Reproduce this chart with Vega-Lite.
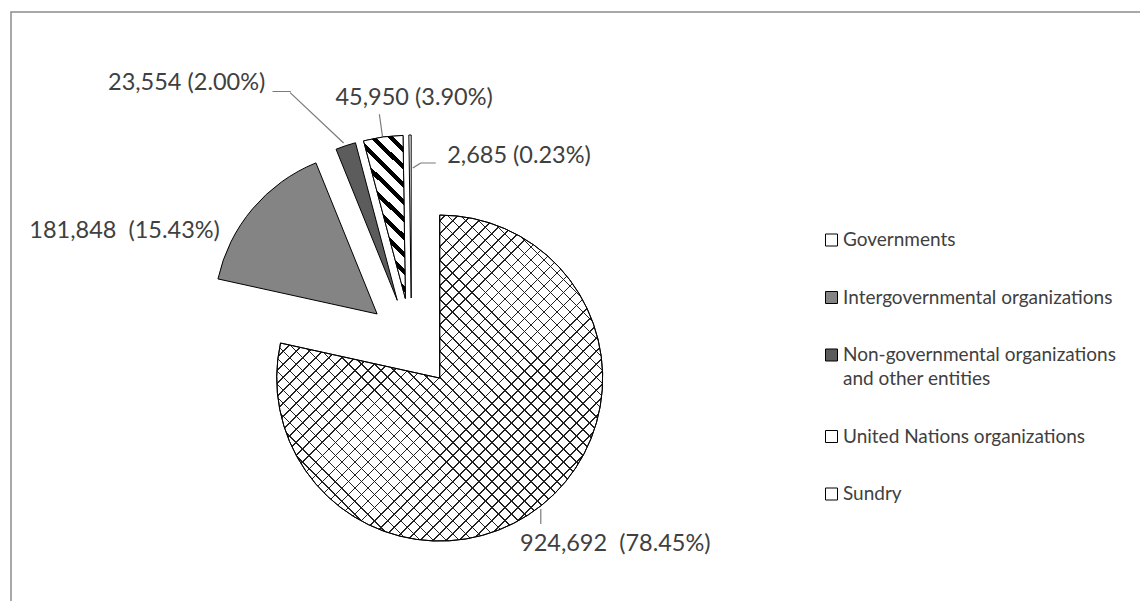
{
  "$schema": "https://vega.github.io/schema/vega-lite/v6.json",
  "padding": {"left": 10, "top": 11, "right": 0, "bottom": -72},
  "background": "white",
  "config": {"font": "Lato", "text": {"font": "Lato"}, "style": {"guide-label": {"lineHeight": 24}}},
  "data": {"values": [
    {"category": "Governments", "value": 924692, "label": "924,692\u00a0 (78.45%)"},
    {"category": "Intergovernmental organizations", "value": 181848, "label": "181,848\u00a0 (15.43%)"},
    {"category": "Non-governmental organizations and other entities", "value": 23554, "label": "23,554 (2.00%)"},
    {"category": "United Nations organizations", "value": 45950, "label": "45,950 (3.90%)"},
    {"category": "Sundry", "value": 2685, "label": "2,685 (0.23%)"}
  ]},
  "transform": [
    {"joinaggregate": [{"op": "sum", "field": "value", "as": "total"}]},
    {"stack": "value", "groupby": [], "as": ["v0", "v1"]}
  ],
  "spacing": 0,
  "bounds": "flush",
  "hconcat": [
    {
      "width": 801,
      "height": 662,
      "view": {"stroke": "#8c8c8c", "strokeWidth": 1.5, "strokeDash": [801, 1463, 700]},
      "encoding": {
        "theta": {"field": "value", "type": "quantitative", "stack": true},
        "order": {"field": "v0", "type": "quantitative", "sort": "ascending"}
      },
      "layer": [
        {
          "mark": {"type": "arc", "outerRadius": 163, "stroke": "black", "strokeWidth": 1},
          "encoding": {
            "color": {
              "field": "category", "type": "nominal",
              "scale": {
                "domain": ["Governments", "Intergovernmental organizations", "Non-governmental organizations and other entities", "United Nations organizations", "Sundry"],
                "range": ["#ffffff", "#848484", "#5c5c5c", "#ffffff", "#ffffff"]
              },
              "legend": {
                "orient": "none", "legendX": 811, "legendY": 218.5,
                "title": null, "padding": 0,
                "symbolType": "square", "symbolSize": 144,
                "symbolStrokeColor": "black", "symbolStrokeWidth": 1,
                "labelFont": "Lato", "labelFontSize": 19, "labelColor": "#404040",
                "labelLimit": 0, "labelOffset": 2, "rowPadding": 37.5,
                "labelExpr": "datum.label == 'Non-governmental organizations and other entities' ? ['Non-governmental organizations', 'and other entities'] : datum.label"
              }
            },
            "xOffset": {"value": {"expr": "45*sin(PI*(datum.value_start+datum.value_end)/datum.total)"}},
            "yOffset": {"value": {"expr": "-45*cos(PI*(datum.value_start+datum.value_end)/datum.total)"}}
          }
        },
        {
          "mark": {
            "type": "arc", "outerRadius": 163, "strokeWidth": 0,
            "fill": {
              "gradient": "linear", "x1": 0, "y1": 0, "x2": 1, "y2": 1,
              "stops": [
                {"offset":0,"color":"transparent"},{"offset":0.0175,"color":"transparent"},{"offset":0.0175,"color":"#222"},{"offset":0.02,"color":"#222"},
                {"offset":0.02,"color":"transparent"},{"offset":0.0375,"color":"transparent"},{"offset":0.0375,"color":"#222"},{"offset":0.04,"color":"#222"},
                {"offset":0.04,"color":"transparent"},{"offset":0.0575,"color":"transparent"},{"offset":0.0575,"color":"#222"},{"offset":0.06,"color":"#222"},
                {"offset":0.06,"color":"transparent"},{"offset":0.0775,"color":"transparent"},{"offset":0.0775,"color":"#222"},{"offset":0.08,"color":"#222"},
                {"offset":0.08,"color":"transparent"},{"offset":0.0975,"color":"transparent"},{"offset":0.0975,"color":"#222"},{"offset":0.1,"color":"#222"},
                {"offset":0.1,"color":"transparent"},{"offset":0.1175,"color":"transparent"},{"offset":0.1175,"color":"#222"},{"offset":0.12,"color":"#222"},
                {"offset":0.12,"color":"transparent"},{"offset":0.1375,"color":"transparent"},{"offset":0.1375,"color":"#222"},{"offset":0.14,"color":"#222"},
                {"offset":0.14,"color":"transparent"},{"offset":0.1575,"color":"transparent"},{"offset":0.1575,"color":"#222"},{"offset":0.16,"color":"#222"},
                {"offset":0.16,"color":"transparent"},{"offset":0.1775,"color":"transparent"},{"offset":0.1775,"color":"#222"},{"offset":0.18,"color":"#222"},
                {"offset":0.18,"color":"transparent"},{"offset":0.1975,"color":"transparent"},{"offset":0.1975,"color":"#222"},{"offset":0.2,"color":"#222"},
                {"offset":0.2,"color":"transparent"},{"offset":0.2175,"color":"transparent"},{"offset":0.2175,"color":"#222"},{"offset":0.22,"color":"#222"},
                {"offset":0.22,"color":"transparent"},{"offset":0.2375,"color":"transparent"},{"offset":0.2375,"color":"#222"},{"offset":0.24,"color":"#222"},
                {"offset":0.24,"color":"transparent"},{"offset":0.2575,"color":"transparent"},{"offset":0.2575,"color":"#222"},{"offset":0.26,"color":"#222"},
                {"offset":0.26,"color":"transparent"},{"offset":0.2775,"color":"transparent"},{"offset":0.2775,"color":"#222"},{"offset":0.28,"color":"#222"},
                {"offset":0.28,"color":"transparent"},{"offset":0.2975,"color":"transparent"},{"offset":0.2975,"color":"#222"},{"offset":0.3,"color":"#222"},
                {"offset":0.3,"color":"transparent"},{"offset":0.3175,"color":"transparent"},{"offset":0.3175,"color":"#222"},{"offset":0.32,"color":"#222"},
                {"offset":0.32,"color":"transparent"},{"offset":0.3375,"color":"transparent"},{"offset":0.3375,"color":"#222"},{"offset":0.34,"color":"#222"},
                {"offset":0.34,"color":"transparent"},{"offset":0.3575,"color":"transparent"},{"offset":0.3575,"color":"#222"},{"offset":0.36,"color":"#222"},
                {"offset":0.36,"color":"transparent"},{"offset":0.3775,"color":"transparent"},{"offset":0.3775,"color":"#222"},{"offset":0.38,"color":"#222"},
                {"offset":0.38,"color":"transparent"},{"offset":0.3975,"color":"transparent"},{"offset":0.3975,"color":"#222"},{"offset":0.4,"color":"#222"},
                {"offset":0.4,"color":"transparent"},{"offset":0.4175,"color":"transparent"},{"offset":0.4175,"color":"#222"},{"offset":0.42,"color":"#222"},
                {"offset":0.42,"color":"transparent"},{"offset":0.4375,"color":"transparent"},{"offset":0.4375,"color":"#222"},{"offset":0.44,"color":"#222"},
                {"offset":0.44,"color":"transparent"},{"offset":0.4575,"color":"transparent"},{"offset":0.4575,"color":"#222"},{"offset":0.46,"color":"#222"},
                {"offset":0.46,"color":"transparent"},{"offset":0.4775,"color":"transparent"},{"offset":0.4775,"color":"#222"},{"offset":0.48,"color":"#222"},
                {"offset":0.48,"color":"transparent"},{"offset":0.4975,"color":"transparent"},{"offset":0.4975,"color":"#222"},{"offset":0.5,"color":"#222"},
                {"offset":0.5,"color":"transparent"},{"offset":0.5175,"color":"transparent"},{"offset":0.5175,"color":"#222"},{"offset":0.52,"color":"#222"},
                {"offset":0.52,"color":"transparent"},{"offset":0.5375,"color":"transparent"},{"offset":0.5375,"color":"#222"},{"offset":0.54,"color":"#222"},
                {"offset":0.54,"color":"transparent"},{"offset":0.5575,"color":"transparent"},{"offset":0.5575,"color":"#222"},{"offset":0.56,"color":"#222"},
                {"offset":0.56,"color":"transparent"},{"offset":0.5775,"color":"transparent"},{"offset":0.5775,"color":"#222"},{"offset":0.58,"color":"#222"},
                {"offset":0.58,"color":"transparent"},{"offset":0.5975,"color":"transparent"},{"offset":0.5975,"color":"#222"},{"offset":0.6,"color":"#222"},
                {"offset":0.6,"color":"transparent"},{"offset":0.6175,"color":"transparent"},{"offset":0.6175,"color":"#222"},{"offset":0.62,"color":"#222"},
                {"offset":0.62,"color":"transparent"},{"offset":0.6375,"color":"transparent"},{"offset":0.6375,"color":"#222"},{"offset":0.64,"color":"#222"},
                {"offset":0.64,"color":"transparent"},{"offset":0.6575,"color":"transparent"},{"offset":0.6575,"color":"#222"},{"offset":0.66,"color":"#222"},
                {"offset":0.66,"color":"transparent"},{"offset":0.6775,"color":"transparent"},{"offset":0.6775,"color":"#222"},{"offset":0.68,"color":"#222"},
                {"offset":0.68,"color":"transparent"},{"offset":0.6975,"color":"transparent"},{"offset":0.6975,"color":"#222"},{"offset":0.7,"color":"#222"},
                {"offset":0.7,"color":"transparent"},{"offset":0.7175,"color":"transparent"},{"offset":0.7175,"color":"#222"},{"offset":0.72,"color":"#222"},
                {"offset":0.72,"color":"transparent"},{"offset":0.7375,"color":"transparent"},{"offset":0.7375,"color":"#222"},{"offset":0.74,"color":"#222"},
                {"offset":0.74,"color":"transparent"},{"offset":0.7575,"color":"transparent"},{"offset":0.7575,"color":"#222"},{"offset":0.76,"color":"#222"},
                {"offset":0.76,"color":"transparent"},{"offset":0.7775,"color":"transparent"},{"offset":0.7775,"color":"#222"},{"offset":0.78,"color":"#222"},
                {"offset":0.78,"color":"transparent"},{"offset":0.7975,"color":"transparent"},{"offset":0.7975,"color":"#222"},{"offset":0.8,"color":"#222"},
                {"offset":0.8,"color":"transparent"},{"offset":0.8175,"color":"transparent"},{"offset":0.8175,"color":"#222"},{"offset":0.82,"color":"#222"},
                {"offset":0.82,"color":"transparent"},{"offset":0.8375,"color":"transparent"},{"offset":0.8375,"color":"#222"},{"offset":0.84,"color":"#222"},
                {"offset":0.84,"color":"transparent"},{"offset":0.8575,"color":"transparent"},{"offset":0.8575,"color":"#222"},{"offset":0.86,"color":"#222"},
                {"offset":0.86,"color":"transparent"},{"offset":0.8775,"color":"transparent"},{"offset":0.8775,"color":"#222"},{"offset":0.88,"color":"#222"},
                {"offset":0.88,"color":"transparent"},{"offset":0.8975,"color":"transparent"},{"offset":0.8975,"color":"#222"},{"offset":0.9,"color":"#222"},
                {"offset":0.9,"color":"transparent"},{"offset":0.9175,"color":"transparent"},{"offset":0.9175,"color":"#222"},{"offset":0.92,"color":"#222"},
                {"offset":0.92,"color":"transparent"},{"offset":0.9375,"color":"transparent"},{"offset":0.9375,"color":"#222"},{"offset":0.94,"color":"#222"},
                {"offset":0.94,"color":"transparent"},{"offset":0.9575,"color":"transparent"},{"offset":0.9575,"color":"#222"},{"offset":0.96,"color":"#222"},
                {"offset":0.96,"color":"transparent"},{"offset":0.9775,"color":"transparent"},{"offset":0.9775,"color":"#222"},{"offset":0.98,"color":"#222"},
                {"offset":0.98,"color":"transparent"},{"offset":0.9975,"color":"transparent"},{"offset":0.9975,"color":"#222"},{"offset":1,"color":"#222"}
              ]
            }
          },
          "encoding": {
            "opacity": {"condition": {"test": "datum.category == 'Governments'", "value": 1}, "value": 0},
            "xOffset": {"value": {"expr": "45*sin(PI*(datum.value_start+datum.value_end)/datum.total)"}},
            "yOffset": {"value": {"expr": "-45*cos(PI*(datum.value_start+datum.value_end)/datum.total)"}}
          }
        },
        {
          "mark": {
            "type": "arc", "outerRadius": 163, "strokeWidth": 0,
            "fill": {
              "gradient": "linear", "x1": 1, "y1": 0, "x2": 0, "y2": 1,
              "stops": [
                {"offset":0,"color":"transparent"},{"offset":0.0175,"color":"transparent"},{"offset":0.0175,"color":"#222"},{"offset":0.02,"color":"#222"},
                {"offset":0.02,"color":"transparent"},{"offset":0.0375,"color":"transparent"},{"offset":0.0375,"color":"#222"},{"offset":0.04,"color":"#222"},
                {"offset":0.04,"color":"transparent"},{"offset":0.0575,"color":"transparent"},{"offset":0.0575,"color":"#222"},{"offset":0.06,"color":"#222"},
                {"offset":0.06,"color":"transparent"},{"offset":0.0775,"color":"transparent"},{"offset":0.0775,"color":"#222"},{"offset":0.08,"color":"#222"},
                {"offset":0.08,"color":"transparent"},{"offset":0.0975,"color":"transparent"},{"offset":0.0975,"color":"#222"},{"offset":0.1,"color":"#222"},
                {"offset":0.1,"color":"transparent"},{"offset":0.1175,"color":"transparent"},{"offset":0.1175,"color":"#222"},{"offset":0.12,"color":"#222"},
                {"offset":0.12,"color":"transparent"},{"offset":0.1375,"color":"transparent"},{"offset":0.1375,"color":"#222"},{"offset":0.14,"color":"#222"},
                {"offset":0.14,"color":"transparent"},{"offset":0.1575,"color":"transparent"},{"offset":0.1575,"color":"#222"},{"offset":0.16,"color":"#222"},
                {"offset":0.16,"color":"transparent"},{"offset":0.1775,"color":"transparent"},{"offset":0.1775,"color":"#222"},{"offset":0.18,"color":"#222"},
                {"offset":0.18,"color":"transparent"},{"offset":0.1975,"color":"transparent"},{"offset":0.1975,"color":"#222"},{"offset":0.2,"color":"#222"},
                {"offset":0.2,"color":"transparent"},{"offset":0.2175,"color":"transparent"},{"offset":0.2175,"color":"#222"},{"offset":0.22,"color":"#222"},
                {"offset":0.22,"color":"transparent"},{"offset":0.2375,"color":"transparent"},{"offset":0.2375,"color":"#222"},{"offset":0.24,"color":"#222"},
                {"offset":0.24,"color":"transparent"},{"offset":0.2575,"color":"transparent"},{"offset":0.2575,"color":"#222"},{"offset":0.26,"color":"#222"},
                {"offset":0.26,"color":"transparent"},{"offset":0.2775,"color":"transparent"},{"offset":0.2775,"color":"#222"},{"offset":0.28,"color":"#222"},
                {"offset":0.28,"color":"transparent"},{"offset":0.2975,"color":"transparent"},{"offset":0.2975,"color":"#222"},{"offset":0.3,"color":"#222"},
                {"offset":0.3,"color":"transparent"},{"offset":0.3175,"color":"transparent"},{"offset":0.3175,"color":"#222"},{"offset":0.32,"color":"#222"},
                {"offset":0.32,"color":"transparent"},{"offset":0.3375,"color":"transparent"},{"offset":0.3375,"color":"#222"},{"offset":0.34,"color":"#222"},
                {"offset":0.34,"color":"transparent"},{"offset":0.3575,"color":"transparent"},{"offset":0.3575,"color":"#222"},{"offset":0.36,"color":"#222"},
                {"offset":0.36,"color":"transparent"},{"offset":0.3775,"color":"transparent"},{"offset":0.3775,"color":"#222"},{"offset":0.38,"color":"#222"},
                {"offset":0.38,"color":"transparent"},{"offset":0.3975,"color":"transparent"},{"offset":0.3975,"color":"#222"},{"offset":0.4,"color":"#222"},
                {"offset":0.4,"color":"transparent"},{"offset":0.4175,"color":"transparent"},{"offset":0.4175,"color":"#222"},{"offset":0.42,"color":"#222"},
                {"offset":0.42,"color":"transparent"},{"offset":0.4375,"color":"transparent"},{"offset":0.4375,"color":"#222"},{"offset":0.44,"color":"#222"},
                {"offset":0.44,"color":"transparent"},{"offset":0.4575,"color":"transparent"},{"offset":0.4575,"color":"#222"},{"offset":0.46,"color":"#222"},
                {"offset":0.46,"color":"transparent"},{"offset":0.4775,"color":"transparent"},{"offset":0.4775,"color":"#222"},{"offset":0.48,"color":"#222"},
                {"offset":0.48,"color":"transparent"},{"offset":0.4975,"color":"transparent"},{"offset":0.4975,"color":"#222"},{"offset":0.5,"color":"#222"},
                {"offset":0.5,"color":"transparent"},{"offset":0.5175,"color":"transparent"},{"offset":0.5175,"color":"#222"},{"offset":0.52,"color":"#222"},
                {"offset":0.52,"color":"transparent"},{"offset":0.5375,"color":"transparent"},{"offset":0.5375,"color":"#222"},{"offset":0.54,"color":"#222"},
                {"offset":0.54,"color":"transparent"},{"offset":0.5575,"color":"transparent"},{"offset":0.5575,"color":"#222"},{"offset":0.56,"color":"#222"},
                {"offset":0.56,"color":"transparent"},{"offset":0.5775,"color":"transparent"},{"offset":0.5775,"color":"#222"},{"offset":0.58,"color":"#222"},
                {"offset":0.58,"color":"transparent"},{"offset":0.5975,"color":"transparent"},{"offset":0.5975,"color":"#222"},{"offset":0.6,"color":"#222"},
                {"offset":0.6,"color":"transparent"},{"offset":0.6175,"color":"transparent"},{"offset":0.6175,"color":"#222"},{"offset":0.62,"color":"#222"},
                {"offset":0.62,"color":"transparent"},{"offset":0.6375,"color":"transparent"},{"offset":0.6375,"color":"#222"},{"offset":0.64,"color":"#222"},
                {"offset":0.64,"color":"transparent"},{"offset":0.6575,"color":"transparent"},{"offset":0.6575,"color":"#222"},{"offset":0.66,"color":"#222"},
                {"offset":0.66,"color":"transparent"},{"offset":0.6775,"color":"transparent"},{"offset":0.6775,"color":"#222"},{"offset":0.68,"color":"#222"},
                {"offset":0.68,"color":"transparent"},{"offset":0.6975,"color":"transparent"},{"offset":0.6975,"color":"#222"},{"offset":0.7,"color":"#222"},
                {"offset":0.7,"color":"transparent"},{"offset":0.7175,"color":"transparent"},{"offset":0.7175,"color":"#222"},{"offset":0.72,"color":"#222"},
                {"offset":0.72,"color":"transparent"},{"offset":0.7375,"color":"transparent"},{"offset":0.7375,"color":"#222"},{"offset":0.74,"color":"#222"},
                {"offset":0.74,"color":"transparent"},{"offset":0.7575,"color":"transparent"},{"offset":0.7575,"color":"#222"},{"offset":0.76,"color":"#222"},
                {"offset":0.76,"color":"transparent"},{"offset":0.7775,"color":"transparent"},{"offset":0.7775,"color":"#222"},{"offset":0.78,"color":"#222"},
                {"offset":0.78,"color":"transparent"},{"offset":0.7975,"color":"transparent"},{"offset":0.7975,"color":"#222"},{"offset":0.8,"color":"#222"},
                {"offset":0.8,"color":"transparent"},{"offset":0.8175,"color":"transparent"},{"offset":0.8175,"color":"#222"},{"offset":0.82,"color":"#222"},
                {"offset":0.82,"color":"transparent"},{"offset":0.8375,"color":"transparent"},{"offset":0.8375,"color":"#222"},{"offset":0.84,"color":"#222"},
                {"offset":0.84,"color":"transparent"},{"offset":0.8575,"color":"transparent"},{"offset":0.8575,"color":"#222"},{"offset":0.86,"color":"#222"},
                {"offset":0.86,"color":"transparent"},{"offset":0.8775,"color":"transparent"},{"offset":0.8775,"color":"#222"},{"offset":0.88,"color":"#222"},
                {"offset":0.88,"color":"transparent"},{"offset":0.8975,"color":"transparent"},{"offset":0.8975,"color":"#222"},{"offset":0.9,"color":"#222"},
                {"offset":0.9,"color":"transparent"},{"offset":0.9175,"color":"transparent"},{"offset":0.9175,"color":"#222"},{"offset":0.92,"color":"#222"},
                {"offset":0.92,"color":"transparent"},{"offset":0.9375,"color":"transparent"},{"offset":0.9375,"color":"#222"},{"offset":0.94,"color":"#222"},
                {"offset":0.94,"color":"transparent"},{"offset":0.9575,"color":"transparent"},{"offset":0.9575,"color":"#222"},{"offset":0.96,"color":"#222"},
                {"offset":0.96,"color":"transparent"},{"offset":0.9775,"color":"transparent"},{"offset":0.9775,"color":"#222"},{"offset":0.98,"color":"#222"},
                {"offset":0.98,"color":"transparent"},{"offset":0.9975,"color":"transparent"},{"offset":0.9975,"color":"#222"},{"offset":1,"color":"#222"}
              ]
            }
          },
          "encoding": {
            "opacity": {"condition": {"test": "datum.category == 'Governments'", "value": 1}, "value": 0},
            "xOffset": {"value": {"expr": "45*sin(PI*(datum.value_start+datum.value_end)/datum.total)"}},
            "yOffset": {"value": {"expr": "-45*cos(PI*(datum.value_start+datum.value_end)/datum.total)"}}
          }
        },
        {
          "mark": {
            "type": "arc", "outerRadius": 163, "stroke": "black", "strokeWidth": 1,
            "fill": {
              "gradient": "linear", "x1": 0, "y1": 1, "x2": 0.3, "y2": -0.2,
              "stops": [
                {"offset": 0, "color": "white"}, {"offset": 0.0542, "color": "white"}, {"offset": 0.0542, "color": "black"}, {"offset": 0.0833, "color": "black"},
                {"offset": 0.0833, "color": "white"}, {"offset": 0.1375, "color": "white"}, {"offset": 0.1375, "color": "black"}, {"offset": 0.1667, "color": "black"},
                {"offset": 0.1667, "color": "white"}, {"offset": 0.2208, "color": "white"}, {"offset": 0.2208, "color": "black"}, {"offset": 0.25, "color": "black"},
                {"offset": 0.25, "color": "white"}, {"offset": 0.3042, "color": "white"}, {"offset": 0.3042, "color": "black"}, {"offset": 0.3333, "color": "black"},
                {"offset": 0.3333, "color": "white"}, {"offset": 0.3875, "color": "white"}, {"offset": 0.3875, "color": "black"}, {"offset": 0.4167, "color": "black"},
                {"offset": 0.4167, "color": "white"}, {"offset": 0.4708, "color": "white"}, {"offset": 0.4708, "color": "black"}, {"offset": 0.5, "color": "black"},
                {"offset": 0.5, "color": "white"}, {"offset": 0.5542, "color": "white"}, {"offset": 0.5542, "color": "black"}, {"offset": 0.5833, "color": "black"},
                {"offset": 0.5833, "color": "white"}, {"offset": 0.6375, "color": "white"}, {"offset": 0.6375, "color": "black"}, {"offset": 0.6667, "color": "black"},
                {"offset": 0.6667, "color": "white"}, {"offset": 0.7208, "color": "white"}, {"offset": 0.7208, "color": "black"}, {"offset": 0.75, "color": "black"},
                {"offset": 0.75, "color": "white"}, {"offset": 0.8042, "color": "white"}, {"offset": 0.8042, "color": "black"}, {"offset": 0.8333, "color": "black"},
                {"offset": 0.8333, "color": "white"}, {"offset": 0.8875, "color": "white"}, {"offset": 0.8875, "color": "black"}, {"offset": 0.9167, "color": "black"},
                {"offset": 0.9167, "color": "white"}, {"offset": 0.9708, "color": "white"}, {"offset": 0.9708, "color": "black"}, {"offset": 1, "color": "black"}
              ]
            }
          },
          "encoding": {
            "opacity": {"condition": {"test": "datum.category == 'United Nations organizations'", "value": 1}, "value": 0},
            "xOffset": {"value": {"expr": "45*sin(PI*(datum.value_start+datum.value_end)/datum.total)"}},
            "yOffset": {"value": {"expr": "-45*cos(PI*(datum.value_start+datum.value_end)/datum.total)"}}
          }
        },
        {
          "mark": {"type": "arc", "outerRadius": 163, "fill": "transparent", "stroke": "black", "strokeWidth": 1},
          "encoding": {
            "opacity": {"condition": {"test": "datum.category == 'Governments'", "value": 1}, "value": 0},
            "xOffset": {"value": {"expr": "45*sin(PI*(datum.value_start+datum.value_end)/datum.total)"}},
            "yOffset": {"value": {"expr": "-45*cos(PI*(datum.value_start+datum.value_end)/datum.total)"}}
          }
        },
        {
          "transform": [{"filter": "datum.category == 'Governments'"}],
          "mark": {"type": "arc", "innerRadius": 166, "outerRadius": 181, "thetaOffset": 3.14159, "theta2Offset": 3.14159, "xOffset": 129.3, "filled": false, "stroke": "#7a7a7a", "strokeWidth": 1.2},
          "encoding": {"theta": {"datum": 0, "type": "quantitative"}, "theta2": {"datum": 0}}
        },
        {
          "transform": [{"filter": "datum.category == 'United Nations organizations'"}],
          "mark": {"type": "arc", "innerRadius": 209, "outerRadius": 231, "thetaOffset": 6.1436, "theta2Offset": 6.1436, "filled": false, "stroke": "#7a7a7a", "strokeWidth": 1.2},
          "encoding": {"theta": {"datum": 0, "type": "quantitative"}, "theta2": {"datum": 0}}
        },
        {
          "transform": [{"filter": "datum.category == 'Non-governmental organizations and other entities'"}],
          "mark": {"type": "arc", "innerRadius": 200, "outerRadius": 273.5, "thetaOffset": 5.468, "theta2Offset": 5.468, "xOffset": 77.7, "yOffset": -62.8, "filled": false, "stroke": "#7a7a7a", "strokeWidth": 1.2},
          "encoding": {"theta": {"datum": 0, "type": "quantitative"}, "theta2": {"datum": 0}}
        },
        {
          "transform": [{"filter": "datum.category == 'Non-governmental organizations and other entities'"}],
          "mark": {"type": "arc", "innerRadius": 120.7, "outerRadius": 139, "thetaOffset": 4.712389, "theta2Offset": 4.712389, "yOffset": -251.5, "filled": false, "stroke": "#7a7a7a", "strokeWidth": 1.2},
          "encoding": {"theta": {"datum": 0, "type": "quantitative"}, "theta2": {"datum": 0}}
        },
        {
          "transform": [{"filter": "datum.category == 'Sundry'"}],
          "mark": {"type": "arc", "innerRadius": 9.3, "outerRadius": 24.3, "thetaOffset": 1.570796, "theta2Offset": 1.570796, "yOffset": -180, "filled": false, "stroke": "#7a7a7a", "strokeWidth": 1.2},
          "encoding": {"theta": {"datum": 0, "type": "quantitative"}, "theta2": {"datum": 0}}
        },
        {
          "transform": [{"filter": "datum.category == 'Sundry'"}],
          "mark": {"type": "arc", "innerRadius": 0, "outerRadius": 9.4, "thetaOffset": 1.0122, "theta2Offset": 1.0122, "xOffset": 1.3, "yOffset": -175, "filled": false, "stroke": "#7a7a7a", "strokeWidth": 1.2},
          "encoding": {"theta": {"datum": 0, "type": "quantitative"}, "theta2": {"datum": 0}}
        },
        {
          "mark": {"type": "text", "radius": 208, "dx": 73.5, "dy": 39, "fontSize": 23.5, "fill": "#404040", "align": "center", "baseline": "middle"},
          "encoding": {"text": {"condition": {"test": "datum.category == 'Governments'", "field": "label"}, "value": ""}}
        },
        {
          "mark": {"type": "text", "radius": 208, "dx": -128, "dy": 22, "fontSize": 23.5, "fill": "#404040", "align": "center", "baseline": "middle"},
          "encoding": {"text": {"condition": {"test": "datum.category == 'Intergovernmental organizations'", "field": "label"}, "value": ""}}
        },
        {
          "mark": {"type": "text", "radius": 208, "dx": -159, "dy": -63, "fontSize": 23.5, "fill": "#404040", "align": "center", "baseline": "middle"},
          "encoding": {"text": {"condition": {"test": "datum.category == 'Non-governmental organizations and other entities'", "field": "label"}, "value": ""}}
        },
        {
          "mark": {"type": "text", "radius": 208, "dx": 31, "dy": -39, "fontSize": 23.5, "fill": "#404040", "align": "center", "baseline": "middle"},
          "encoding": {"text": {"condition": {"test": "datum.category == 'United Nations organizations'", "field": "label"}, "value": ""}}
        },
        {
          "mark": {"type": "text", "radius": 208, "dx": 109, "dy": 21, "fontSize": 23.5, "fill": "#404040", "align": "center", "baseline": "middle"},
          "encoding": {"text": {"condition": {"test": "datum.category == 'Sundry'", "field": "label"}, "value": ""}}
        }
      ]
    },
    {
      "width": 328,
      "height": 662,
      "view": {"stroke": "#8c8c8c", "strokeWidth": 1.5, "strokeDash": [328, 3000]},
      "mark": {"type": "point", "opacity": 0},
      "encoding": {}
    }
  ]
}
